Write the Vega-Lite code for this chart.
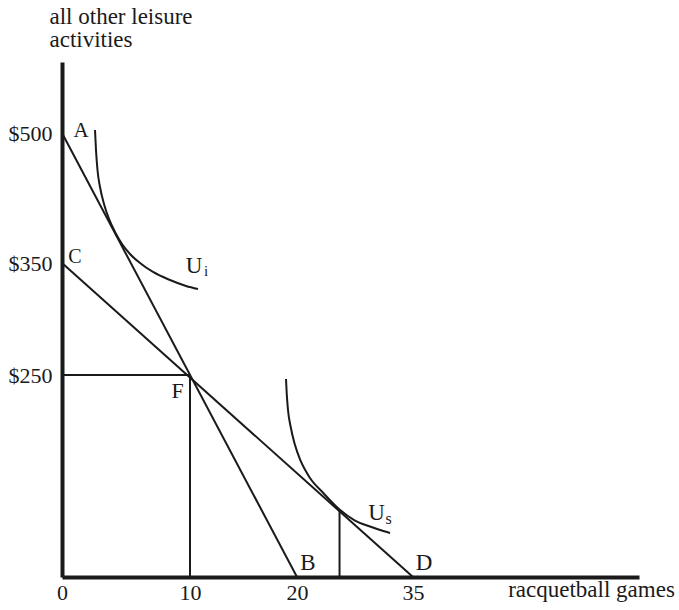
{
  "$schema": "https://vega.github.io/schema/vega-lite/v6.json",
  "width": 577,
  "height": 515,
  "autosize": {"type": "none"},
  "padding": {"left": 62, "top": 62, "right": 40, "bottom": 33},
  "background": "white",
  "config": {
    "view": {"stroke": null},
    "font": "Liberation Serif",
    "text": {"font": "Liberation Serif", "color": "#1a1a1a", "align": "center", "baseline": "alphabetic"}
  },
  "datasets": {
    "segments": [
      {"seg": "AB", "x": 0, "y": 500, "x2": 20, "y2": 0},
      {"seg": "CD", "x": 0, "y": 350, "x2": 35, "y2": 0},
      {"seg": "F-horizontal", "x": 0, "y": 250, "x2": 10, "y2": 250},
      {"seg": "F-vertical", "x": 10, "y": 0, "x2": 10, "y2": 250},
      {"seg": "Us-vertical", "x": 25.5, "y": 0, "x2": 25.5, "y2": 82.5}
    ],
    "curves": [
      {"curve": "Ui", "i": 0, "x": 2.578, "y": 503.5},
      {"curve": "Ui", "i": 1, "x": 2.656, "y": 480.4},
      {"curve": "Ui", "i": 2, "x": 2.773, "y": 457.3},
      {"curve": "Ui", "i": 3, "x": 2.969, "y": 437.7},
      {"curve": "Ui", "i": 4, "x": 3.281, "y": 418.1},
      {"curve": "Ui", "i": 5, "x": 3.672, "y": 400.8},
      {"curve": "Ui", "i": 6, "x": 4.141, "y": 385.8},
      {"curve": "Ui", "i": 7, "x": 4.688, "y": 371.9},
      {"curve": "Ui", "i": 8, "x": 5.313, "y": 360.4},
      {"curve": "Ui", "i": 9, "x": 6.094, "y": 350.0},
      {"curve": "Ui", "i": 10, "x": 7.109, "y": 342.0},
      {"curve": "Ui", "i": 11, "x": 8.438, "y": 334.8},
      {"curve": "Ui", "i": 12, "x": 9.688, "y": 329.5},
      {"curve": "Ui", "i": 13, "x": 10.748, "y": 326.8},
      {"curve": "Us", "i": 0, "x": 18.972, "y": 245.0},
      {"curve": "Us", "i": 1, "x": 19.037, "y": 227.7},
      {"curve": "Us", "i": 2, "x": 19.159, "y": 206.7},
      {"curve": "Us", "i": 3, "x": 19.411, "y": 185.6},
      {"curve": "Us", "i": 4, "x": 19.785, "y": 164.6},
      {"curve": "Us", "i": 5, "x": 20.478, "y": 143.6},
      {"curve": "Us", "i": 6, "x": 21.681, "y": 122.5},
      {"curve": "Us", "i": 7, "x": 23.401, "y": 104.0},
      {"curve": "Us", "i": 8, "x": 25.496, "y": 83.5},
      {"curve": "Us", "i": 9, "x": 27.5, "y": 69.9},
      {"curve": "Us", "i": 10, "x": 29.44, "y": 62.5},
      {"curve": "Us", "i": 11, "x": 31.16, "y": 56.9},
      {"curve": "Us", "i": 12, "x": 32.03, "y": 54.5}
    ],
    "points": [
      {"name": "A", "x": 0, "y": 500},
      {"name": "C", "x": 0, "y": 350},
      {"name": "F", "x": 10, "y": 250},
      {"name": "B", "x": 20, "y": 0},
      {"name": "D", "x": 35, "y": 0},
      {"name": "Ui", "x": 10.748, "y": 326.8},
      {"name": "Us", "x": 32.03, "y": 54.5}
    ]
  },
  "encoding": {
    "x": {
      "field": "x",
      "type": "quantitative",
      "scale": {"domain": [0, 10, 20, 35, 64.2], "range": [0, 128, 235, 351, 577], "nice": false, "zero": false},
      "axis": {
        "values": [0, 10, 20, 35],
        "title": "racquetball games",
        "grid": false,
        "ticks": false,
        "domainWidth": 4,
        "domainColor": "#1a1a1a",
        "labelFont": "Liberation Serif",
        "labelFontSize": 22,
        "labelColor": "#1a1a1a",
        "labelPadding": 5,
        "labelFlush": false,
        "labelOverlap": false,
        "titleFont": "Liberation Serif",
        "titleFontSize": 23,
        "titleFontWeight": "normal",
        "titleColor": "#1a1a1a",
        "titleX": 529,
        "titleY": 19,
        "titleAlign": "center",
        "titleBaseline": "alphabetic"
      }
    },
    "y": {
      "field": "y",
      "type": "quantitative",
      "scale": {"domain": [0, 250, 350, 500, 582], "range": [515, 313, 201, 71, 0], "nice": false, "zero": false},
      "axis": {
        "values": [250, 350, 500],
        "labelExpr": "'$' + datum.value",
        "title": ["all other leisure", "activities"],
        "grid": false,
        "ticks": false,
        "domainWidth": 4,
        "domainColor": "#1a1a1a",
        "labelFont": "Liberation Serif",
        "labelFontSize": 22,
        "labelColor": "#1a1a1a",
        "labelPadding": 10,
        "labelOverlap": false,
        "titleFont": "Liberation Serif",
        "titleFontSize": 23,
        "titleFontWeight": "normal",
        "titleColor": "#1a1a1a",
        "titleAngle": 0,
        "titleX": -13,
        "titleY": -39,
        "titleAlign": "left",
        "titleBaseline": "alphabetic",
        "titleLineHeight": 23
      }
    }
  },
  "layer": [
    {
      "data": {"name": "segments"},
      "mark": {"type": "rule", "stroke": "#1a1a1a", "strokeWidth": 2},
      "encoding": {"x2": {"field": "x2"}, "y2": {"field": "y2"}}
    },
    {
      "data": {"name": "curves"},
      "mark": {"type": "line", "stroke": "#1a1a1a", "strokeWidth": 2, "interpolate": "monotone"},
      "encoding": {"detail": {"field": "curve"}, "order": {"field": "i", "type": "quantitative"}}
    },
    {
      "data": {"name": "points"},
      "transform": [{"filter": "datum.name === 'A'"}],
      "mark": {"type": "text", "fontSize": 21, "dx": 19, "dy": 4},
      "encoding": {"text": {"field": "name"}}
    },
    {
      "data": {"name": "points"},
      "transform": [{"filter": "datum.name === 'C'"}],
      "mark": {"type": "text", "fontSize": 20, "dx": 13, "dy": 0},
      "encoding": {"text": {"field": "name"}}
    },
    {
      "data": {"name": "points"},
      "transform": [{"filter": "datum.name === 'F'"}],
      "mark": {"type": "text", "fontSize": 22, "dx": -12.5, "dy": 23},
      "encoding": {"text": {"field": "name"}}
    },
    {
      "data": {"name": "points"},
      "transform": [{"filter": "datum.name === 'B' || datum.name === 'D'"}],
      "mark": {"type": "text", "fontSize": 23, "dx": 11, "dy": -7},
      "encoding": {"text": {"field": "name"}}
    },
    {
      "data": {"name": "points"},
      "transform": [{"filter": "datum.name === 'Ui'"}],
      "mark": {"type": "text", "fontSize": 23, "dx": -4, "dy": -16},
      "encoding": {"text": {"value": "U"}}
    },
    {
      "data": {"name": "points"},
      "transform": [{"filter": "datum.name === 'Ui'"}],
      "mark": {"type": "text", "fontSize": 15, "dx": 8, "dy": -13},
      "encoding": {"text": {"value": "i"}}
    },
    {
      "data": {"name": "points"},
      "transform": [{"filter": "datum.name === 'Us'"}],
      "mark": {"type": "text", "fontSize": 23, "dx": -13.5, "dy": -13},
      "encoding": {"text": {"value": "U"}}
    },
    {
      "data": {"name": "points"},
      "transform": [{"filter": "datum.name === 'Us'"}],
      "mark": {"type": "text", "fontSize": 16, "dx": -1.5, "dy": -9},
      "encoding": {"text": {"value": "s"}}
    }
  ]
}
